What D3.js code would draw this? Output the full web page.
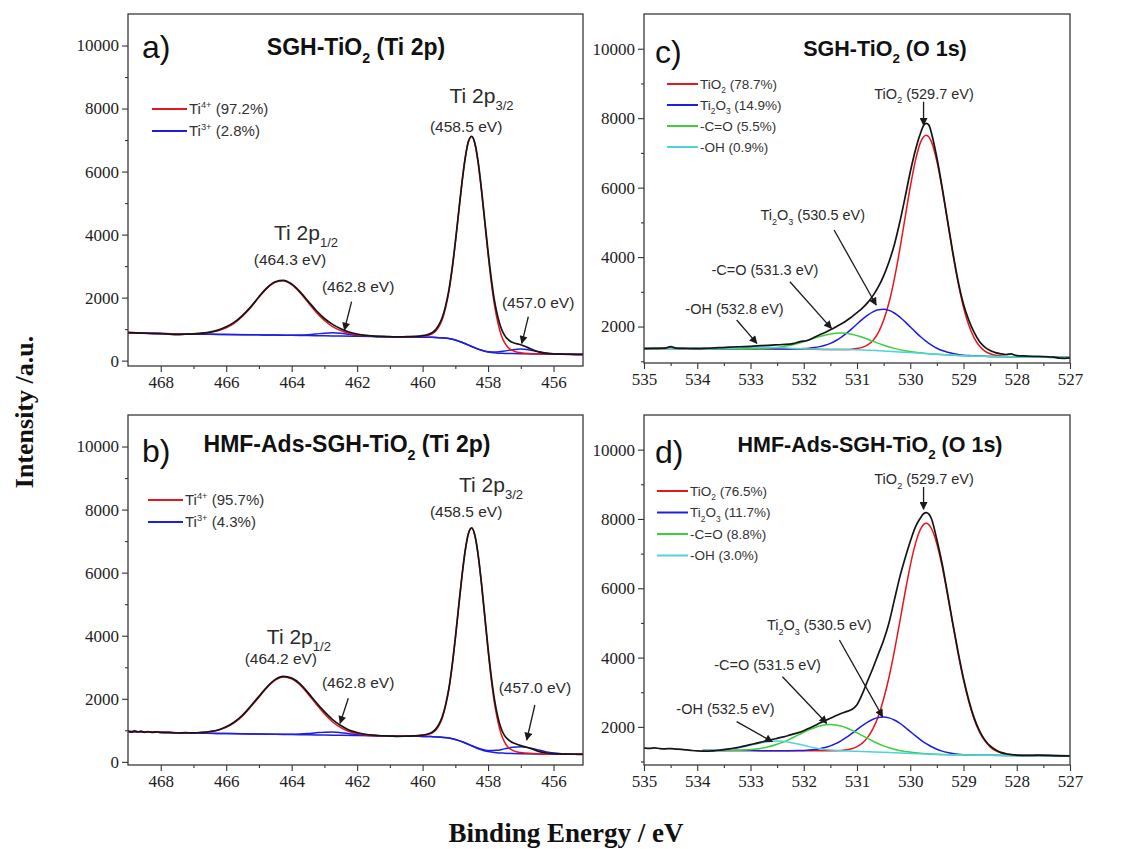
<!DOCTYPE html>
<html>
<head>
<meta charset="utf-8">
<script src="https://cdn.jsdelivr.net/npm/d3@7"></script>
<style>
  html, body { margin: 0; padding: 0; background: #ffffff; }
  svg { display: block; }
  .tick text { font-family: 'Liberation Serif', 'Times New Roman', serif !important; }
</style>
</head>
<body>
<svg id="chart" width="1122" height="849"></svg>
<script>
// ---------------------------------------------------------------
// XPS spectra: [binding energy (eV), intensity (counts)]
// ---------------------------------------------------------------

// (a) SGH-TiO2, Ti 2p
const tiA_raw = [[469,895],[468.75,882],[468.5,872],[468.25,866],[468,855],[467.75,842],[467.5,828],[467.25,838],[467,850],[466.75,872],[466.5,905],[466.25,968],[466,1072],[465.75,1222],[465.5,1440],[465.25,1708],[465,2028],[464.75,2318],[464.5,2505],[464.25,2548],[464,2430],[463.75,2188],[463.5,1890],[463.25,1590],[463,1338],[462.75,1150],[462.5,1010],[462.25,910],[462,845],[461.75,802],[461.5,780],[461.25,768],[461,760],[460.75,752],[460.5,760],[460.25,768],[460,792],[459.9,812],[459.8,842],[459.7,895],[459.6,985],[459.5,1140],[459.4,1370],[459.3,1730],[459.2,2220],[459.1,2910],[459,3760],[458.9,4700],[458.8,5630],[458.7,6420],[458.6,6960],[458.5,7120],[458.4,6890],[458.3,6280],[458.2,5420],[458.1,4440],[458,3460],[457.9,2590],[457.8,1880],[457.7,1380],[457.6,1030],[457.5,810],[457.4,680],[457.3,600],[457.2,560],[457.1,530],[457,505],[456.8,420],[456.6,330],[456.4,262],[456.2,228],[456,212],[455.75,204],[455.5,200],[455.25,197],[455.1,196]];
const tiA_ti4 = [[469,880],[468.5,870],[468,858],[467.5,846],[467.25,845],[467,857],[466.75,868],[466.5,895],[466.25,944],[466,1038],[465.75,1190],[465.5,1412],[465.25,1686],[465,2012],[464.75,2302],[464.5,2488],[464.25,2536],[464,2411],[463.75,2165],[463.5,1850],[463.25,1535],[463,1272],[462.75,1078],[462.5,953],[462.25,871],[462,824],[461.75,794],[461.5,779],[461.25,768],[461,761],[460.75,756],[460.5,756],[460.25,761],[460,778],[459.9,790],[459.8,814],[459.7,858],[459.6,935],[459.5,1076],[459.4,1302],[459.3,1672],[459.2,2174],[459.1,2879],[459,3740],[458.9,4691],[458.8,5623],[458.7,6417],[458.6,6945],[458.5,7105],[458.4,6865],[458.3,6252],[458.2,5378],[458.1,4376],[458,3368],[457.9,2466],[457.8,1729],[457.7,1202],[457.6,816],[457.5,578],[457.4,429],[457.3,346],[457.2,297],[457.1,269],[457,253],[456.75,229],[456.5,217],[456,205],[455.5,200],[455.1,196]];
const tiA_ti3 = [[469,880],[468,858],[467,840],[466,830],[465,818],[464.5,811],[464,807],[463.75,810],[463.5,823],[463.25,846],[463,873],[462.75,884],[462.5,868],[462.25,836],[462,804],[461.75,782],[461.5,770],[461.25,761],[461,758],[460.5,751],[460,745],[459.75,740],[459.5,730],[459.25,708],[459,655],[458.75,560],[458.5,450],[458.25,349],[458,285],[457.75,277],[457.5,305],[457.25,349],[457,370],[456.75,341],[456.5,287],[456.25,243],[456,215],[455.75,206],[455.5,200],[455.1,196]];
const tiA_bg = [[469,880],[468.5,870],[468,858],[467.5,846],[467,840],[466.5,835],[466,830],[465.5,824],[465,818],[464.5,810],[464,802],[463.5,795],[463,788],[462.5,780],[462,772],[461.5,765],[461,758],[460.5,751],[460,745],[459.75,740],[459.5,730],[459.25,708],[459,655],[458.75,560],[458.5,450],[458.25,345],[458,275],[457.75,242],[457.5,230],[457.25,224],[457,219],[456.5,211],[456,205],[455.5,200],[455.1,196]];

// (b) HMF-Ads-SGH-TiO2, Ti 2p
const tiB_raw = [[469,975],[468.9,940],[468.8,985],[468.7,950],[468.6,972],[468.5,935],[468.4,962],[468.25,930],[468.1,955],[468,925],[467.75,932],[467.5,915],[467.25,926],[467,918],[466.75,935],[466.5,962],[466.25,1010],[466,1110],[465.75,1262],[465.5,1480],[465.25,1770],[465,2075],[464.75,2380],[464.5,2615],[464.25,2712],[464,2655],[463.75,2480],[463.5,2195],[463.25,1880],[463,1590],[462.75,1340],[462.5,1150],[462.25,1010],[462,930],[461.75,875],[461.5,845],[461.25,828],[461,818],[460.75,808],[460.5,815],[460.25,822],[460,848],[459.9,866],[459.8,898],[459.7,948],[459.6,1038],[459.5,1196],[459.4,1428],[459.3,1800],[459.2,2310],[459.1,3040],[459,3930],[458.9,4910],[458.8,5870],[458.7,6690],[458.6,7240],[458.5,7420],[458.4,7170],[458.3,6540],[458.2,5650],[458.1,4620],[458,3600],[457.9,2690],[457.8,1950],[457.7,1420],[457.6,1060],[457.5,840],[457.4,720],[457.3,640],[457.2,590],[457.1,550],[457,515],[456.8,455],[456.6,385],[456.4,318],[456.2,280],[456,258],[455.75,248],[455.5,242],[455.25,239],[455.1,237]];
const tiB_ti4 = [[469,960],[468.5,945],[468,935],[467.5,925],[467,922],[466.75,930],[466.5,953],[466.25,1000],[466,1092],[465.75,1241],[465.5,1456],[465.25,1745],[465,2051],[464.75,2357],[464.5,2590],[464.25,2692],[464,2637],[463.75,2449],[463.5,2153],[463.25,1829],[463,1524],[462.75,1264],[462.5,1087],[462.25,964],[462,896],[461.75,857],[461.5,836],[461.25,823],[461,819],[460.75,815],[460.5,817],[460.25,823],[460,841],[459.9,852],[459.8,878],[459.7,922],[459.6,1002],[459.5,1149],[459.4,1382],[459.3,1765],[459.2,2287],[459.1,3019],[459,3912],[458.9,4898],[458.8,5865],[458.7,6690],[458.6,7238],[458.5,7405],[458.4,7158],[458.3,6525],[458.2,5620],[458.1,4578],[458,3527],[457.9,2592],[457.8,1827],[457.7,1280],[457.6,880],[457.5,634],[457.4,478],[457.3,392],[457.2,341],[457.1,310],[457,295],[456.75,270],[456.5,257],[456,246],[455.5,241],[455.1,237]];
const tiB_ti3 = [[469,960],[468,935],[467,915],[466,898],[465,882],[464.5,873],[464,873],[463.75,880],[463.5,898],[463.25,922],[463,941],[462.75,944],[462.5,925],[462.25,894],[462,862],[461.75,841],[461.5,829],[461,818],[460.5,812],[460,806],[459.75,800],[459.5,790],[459.25,765],[459,710],[458.75,620],[458.5,510],[458.25,418],[458,357],[457.75,365],[457.5,411],[457.25,461],[457,480],[456.75,451],[456.5,388],[456.25,324],[456,278],[455.75,255],[455.5,244],[455.1,237]];
const tiB_bg = [[469,960],[468.5,945],[468,935],[467.5,925],[467,915],[466.5,905],[466,898],[465.5,890],[465,882],[464.5,873],[464,865],[463.5,856],[463,848],[462.5,840],[462,832],[461.5,825],[461,818],[460.5,812],[460,806],[459.75,800],[459.5,790],[459.25,765],[459,710],[458.75,620],[458.5,510],[458.25,400],[458,325],[457.75,290],[457.5,275],[457.25,266],[457,260],[456.5,252],[456,246],[455.5,241],[455.1,237]];

// (c) SGH-TiO2, O 1s
const oC_raw = [[535,1365],[534.8,1372],[534.6,1378],[534.5,1420],[534.4,1380],[534.2,1368],[534,1362],[533.8,1375],[533.6,1390],[533.4,1405],[533.2,1418],[533,1430],[532.8,1448],[532.6,1465],[532.4,1482],[532.2,1510],[532.05,1575],[531.95,1590],[531.8,1690],[531.7,1762],[531.6,1830],[531.5,1905],[531.4,1985],[531.3,2070],[531.2,2165],[531.1,2280],[531,2400],[530.9,2530],[530.8,2690],[530.7,2890],[530.6,3140],[530.5,3460],[530.4,3860],[530.3,4350],[530.2,4980],[530.1,5700],[530,6450],[529.9,7100],[529.8,7600],[529.75,7790],[529.7,7850],[529.65,7800],[529.6,7560],[529.5,6860],[529.4,6000],[529.3,5060],[529.2,4130],[529.1,3300],[529,2640],[528.9,2180],[528.8,1830],[528.7,1570],[528.6,1410],[528.5,1310],[528.4,1250],[528.3,1215],[528.2,1195],[528.1,1212],[528.05,1185],[528,1165],[527.8,1150],[527.6,1138],[527.4,1125],[527.3,1118],[527.2,1088],[527.1,1084],[527,1098]];
const oC_tio2 = [[535,1370],[534,1364],[533,1359],[532,1350],[531.5,1340],[531.2,1340],[531.1,1347],[531,1365],[530.9,1400],[530.8,1469],[530.7,1600],[530.6,1826],[530.5,2178],[530.4,2684],[530.3,3361],[530.2,4188],[530.1,5108],[530,6018],[529.9,6800],[529.8,7331],[529.7,7510],[529.6,7311],[529.5,6760],[529.4,5960],[529.3,5033],[529.2,4095],[529.1,3250],[529,2556],[528.9,2037],[528.8,1674],[528.7,1437],[528.6,1295],[528.5,1215],[528.4,1172],[528.3,1149],[528.2,1137],[528,1125],[527.5,1115],[527,1105]];
const oC_ti2o3 = [[535,1370],[534,1364],[533,1359],[532.3,1355],[532.1,1359],[532,1366],[531.9,1377],[531.8,1395],[531.7,1422],[531.6,1461],[531.5,1515],[531.4,1591],[531.3,1686],[531.2,1801],[531.1,1932],[531,2072],[530.9,2207],[530.8,2327],[530.7,2422],[530.6,2481],[530.5,2497],[530.4,2465],[530.3,2390],[530.2,2278],[530.1,2141],[530,1992],[529.9,1840],[529.8,1697],[529.7,1570],[529.6,1463],[529.5,1375],[529.4,1308],[529.3,1259],[529.2,1223],[529.1,1196],[529,1176],[528.9,1164],[528.7,1150],[528.5,1140],[528,1125],[527.5,1115],[527,1105]];
const oC_co = [[535,1370],[534,1364],[533.3,1361],[533.1,1360],[532.9,1364],[532.7,1374],[532.5,1399],[532.3,1445],[532.1,1517],[531.9,1612],[531.7,1712],[531.5,1785],[531.3,1811],[531.1,1777],[530.9,1690],[530.7,1574],[530.5,1463],[530.3,1371],[530.1,1304],[529.9,1259],[529.7,1227],[529.5,1202],[529.3,1184],[529,1160],[528.5,1140],[528,1125],[527.5,1115],[527,1105]];
const oC_oh = [[535,1370],[534.5,1367],[534.2,1365],[533.8,1366],[533.6,1370],[533.4,1378],[533.2,1390],[533,1402],[532.8,1407],[532.6,1400],[532.4,1386],[532.2,1370],[532,1358],[531.8,1350],[531.4,1339],[531,1330],[530.5,1297],[530,1250],[529.5,1200],[529,1160],[528.5,1140],[528,1125],[527.5,1115],[527,1105]];

// (d) HMF-Ads-SGH-TiO2, O 1s
const oD_raw = [[535,1395],[534.9,1380],[534.8,1392],[534.7,1375],[534.6,1368],[534.5,1372],[534.4,1360],[534.3,1350],[534.2,1335],[534.1,1318],[534,1305],[533.9,1300],[533.8,1298],[533.7,1310],[533.6,1325],[533.5,1345],[533.4,1365],[533.3,1390],[533.2,1420],[533.1,1450],[533,1490],[532.9,1525],[532.8,1560],[532.7,1595],[532.6,1635],[532.5,1670],[532.4,1705],[532.3,1745],[532.2,1790],[532.1,1835],[532,1890],[531.9,1960],[531.8,2030],[531.7,2110],[531.6,2180],[531.5,2250],[531.4,2320],[531.3,2385],[531.2,2440],[531.1,2500],[531,2640],[530.9,2950],[530.8,3330],[530.7,3700],[530.6,4100],[530.5,4500],[530.4,5000],[530.3,5650],[530.2,6300],[530.1,6850],[530,7350],[529.9,7780],[529.8,8050],[529.75,8150],[529.7,8180],[529.65,8140],[529.6,8000],[529.5,7400],[529.4,6700],[529.3,5850],[529.2,4980],[529.1,4150],[529,3400],[528.9,2770],[528.8,2260],[528.7,1885],[528.6,1625],[528.5,1450],[528.4,1340],[528.3,1265],[528.2,1225],[528.1,1200],[528,1185],[527.8,1175],[527.6,1185],[527.4,1175],[527.2,1165],[527,1160]];
const oD_tio2 = [[533.9,1321],[533,1315],[532,1308],[531.5,1309],[531.3,1320],[531.2,1338],[531.1,1368],[531,1430],[530.9,1532],[530.8,1697],[530.7,1949],[530.6,2310],[530.5,2803],[530.4,3424],[530.3,4170],[530.2,5003],[530.1,5856],[530,6656],[529.9,7303],[529.8,7730],[529.7,7877],[529.6,7718],[529.5,7279],[529.4,6622],[529.3,5812],[529.2,4949],[529.1,4106],[529,3350],[528.9,2722],[528.8,2221],[528.7,1854],[528.6,1596],[528.5,1424],[528.4,1317],[528.3,1249],[528.2,1216],[528.1,1195],[528,1175],[527.5,1172],[527,1170]];
const oD_ti2o3 = [[533.9,1321],[533,1315],[532.3,1312],[532.1,1316],[532,1321],[531.9,1330],[531.8,1346],[531.7,1369],[531.6,1403],[531.5,1451],[531.4,1515],[531.3,1598],[531.2,1695],[531.1,1805],[531,1920],[530.9,2036],[530.8,2139],[530.7,2221],[530.6,2272],[530.5,2285],[530.4,2260],[530.3,2198],[530.2,2105],[530.1,1991],[530,1865],[529.9,1739],[529.8,1620],[529.7,1515],[529.6,1426],[529.5,1354],[529.4,1300],[529.3,1261],[529.2,1233],[529.1,1212],[529,1198],[528.9,1191],[528.7,1183],[528.5,1178],[528,1175],[527.5,1172],[527,1170]];
const oD_co = [[533.9,1321],[533.5,1319],[533.3,1323],[533.1,1335],[532.9,1360],[532.7,1411],[532.5,1497],[532.3,1619],[532.1,1769],[531.9,1917],[531.7,2028],[531.5,2067],[531.3,2023],[531.1,1905],[530.9,1746],[530.7,1585],[530.5,1451],[530.3,1352],[530.1,1288],[529.9,1250],[529.7,1225],[529.5,1208],[529.3,1197],[529,1185],[528.5,1178],[528,1175],[527.5,1172],[527,1170]];
const oD_oh = [[533.9,1324],[533.7,1329],[533.5,1344],[533.3,1380],[533.1,1437],[532.9,1507],[532.7,1567],[532.5,1591],[532.3,1565],[532.1,1503],[531.9,1430],[531.7,1370],[531.5,1330],[531.3,1310],[531.1,1298],[530.9,1286],[530.5,1265],[530,1235],[529.5,1205],[529,1185],[528.5,1178],[528,1175],[527.5,1172],[527,1170]];

// Tick values
const tiXMajor = [468, 466, 464, 462, 460, 458, 456];
const tiXMinor = [467, 465, 463, 461, 459, 457];
const oXMajor = [535, 534, 533, 532, 531, 530, 529, 528, 527];
const oXMinor = [534.5, 533.5, 532.5, 531.5, 530.5, 529.5, 528.5, 527.5];
const tiYMajor = [0, 2000, 4000, 6000, 8000, 10000];
const oYMajor = [2000, 4000, 6000, 8000, 10000];
const yMinor = [1000, 3000, 5000, 7000, 9000];

// Legend entries (component : fitted fraction)
const legendA = ["Ti^{4+} (97.2%)", "Ti^{3+} (2.8%)"];
const legendB = ["Ti^{4+} (95.7%)", "Ti^{3+} (4.3%)"];
const legendC = ["TiO_{2} (78.7%)", "Ti_{2}O_{3} (14.9%)", "-C=O (5.5%)", "-OH (0.9%)"];
const legendD = ["TiO_{2} (76.5%)", "Ti_{2}O_{3} (11.7%)", "-C=O (8.8%)", "-OH (3.0%)"];

// ---------------------------------------------------------------
const RED = "#e8161c", BLUE = "#1e1ee0", GREEN = "#3ccf3c", CYAN = "#4ed3db", INK = "#151515";
const SANS = "'Liberation Sans', Arial, sans-serif";
const SERIF = "'Liberation Serif', 'Times New Roman', serif";

const panels = [
  {
    id: "a", box: { x0: 128, x1: 583, y0: 14, y1: 366 },
    xDomain: [469, 455.1], yDomain: [-170, 11000],
    xMajor: tiXMajor, xMinor: tiXMinor, yMajor: tiYMajor,
    series: [[tiA_bg, BLUE], [tiA_ti3, BLUE], [tiA_ti4, RED], [tiA_raw, INK]],
    tag: { text: "a)", x: 142, y: 58 },
    title: { text: "SGH-TiO_{2} (Ti 2p)", x: 356, y: 55, size: 23 },
    legend: { items: legendA, colors: [RED, BLUE], x: 152, y: 109, dy: 22, len: 35, size: 15 },
    notes: [
      { text: "Ti 2p_{3/2}", at: [458.2, 8177], size: 21 },
      { text: "(458.5 eV)", at: [458.67, 7256], size: 15.5 },
      { text: "Ti 2p_{1/2}", at: [463.56, 3829], size: 21 },
      { text: "(464.3 eV)", at: [464.05, 3035], size: 15.5 },
      { text: "(462.8 eV)", at: [461.97, 2163], size: 15.5 },
      { text: "(457.0 eV)", at: [456.47, 1671], size: 15.5 }
    ],
    arrows: [
      { from: [462.17, 1871], to: [462.39, 972] },
      { from: [456.77, 1395], to: [456.97, 550] }
    ]
  },
  {
    id: "b", box: { x0: 128, x1: 583, y0: 415, y1: 765 },
    xDomain: [469, 455.1], yDomain: [-100, 11000],
    xMajor: tiXMajor, xMinor: tiXMinor, yMajor: tiYMajor,
    series: [[tiB_bg, BLUE], [tiB_ti3, BLUE], [tiB_ti4, RED], [tiB_raw, INK]],
    tag: { text: "b)", x: 142, y: 462 },
    title: { text: "HMF-Ads-SGH-TiO_{2} (Ti 2p)", x: 347, y: 452, size: 23 },
    legend: { items: legendB, colors: [RED, BLUE], x: 148, y: 500, dy: 22, len: 35, size: 15 },
    notes: [
      { text: "Ti 2p_{3/2}", at: [457.91, 8558], size: 21 },
      { text: "(458.5 eV)", at: [458.67, 7765], size: 15.5 },
      { text: "Ti 2p_{1/2}", at: [463.78, 3738], size: 21 },
      { text: "(464.2 eV)", at: [464.33, 3119], size: 15.5 },
      { text: "(462.8 eV)", at: [461.97, 2342], size: 15.5 },
      { text: "(457.0 eV)", at: [456.57, 2168], size: 15.5 }
    ],
    arrows: [
      { from: [462.27, 2015], to: [462.52, 1223] },
      { from: [456.57, 1803], to: [456.82, 693] }
    ]
  },
  {
    id: "c", box: { x0: 644, x1: 1070, y0: 14, y1: 363 },
    xDomain: [535, 527], yDomain: [950, 11000],
    xMajor: oXMajor, xMinor: oXMinor, yMajor: oYMajor,
    series: [[oC_tio2, RED], [oC_ti2o3, BLUE], [oC_co, GREEN], [oC_oh, CYAN], [oC_raw, INK]],
    tag: { text: "c)", x: 655, y: 63 },
    title: { text: "SGH-TiO_{2} (O 1s)", x: 885, y: 56, size: 21.5 },
    legend: { items: legendC, colors: [RED, BLUE, GREEN, CYAN], x: 667, y: 84, dy: 21, len: 31, size: 13.5 },
    notes: [
      { text: "TiO_{2} (529.7 eV)", at: [529.74, 8566], size: 14.5 },
      { text: "Ti_{2}O_{3} (530.5 eV)", at: [531.83, 5067], size: 14.5 },
      { text: "-C=O (531.3 eV)", at: [532.73, 3484], size: 14.5 },
      { text: "-OH (532.8 eV)", at: [533.30, 2375], size: 14.5 }
    ],
    arrows: [
      { from: [529.75, 8474], to: [529.75, 7800] },
      { from: [531.43, 4780], to: [530.64, 2620] },
      { from: [532.26, 3291], to: [531.48, 1949] },
      { from: [533.26, 2188], to: [532.88, 1517] }
    ]
  },
  {
    id: "d", box: { x0: 644, x1: 1070, y0: 415, y1: 765 },
    xDomain: [535, 527], yDomain: [900, 11000],
    xMajor: oXMajor, xMinor: oXMinor, yMajor: oYMajor,
    series: [[oD_tio2, RED], [oD_ti2o3, BLUE], [oD_co, GREEN], [oD_oh, CYAN], [oD_raw, INK]],
    tag: { text: "d)", x: 655, y: 463 },
    title: { text: "HMF-Ads-SGH-TiO_{2} (O 1s)", x: 870, y: 452, size: 21.5 },
    legend: { items: legendD, colors: [RED, BLUE, GREEN, CYAN], x: 657, y: 491, dy: 21.5, len: 31, size: 13.5 },
    notes: [
      { text: "TiO_{2} (529.7 eV)", at: [529.74, 8995], size: 14.5 },
      { text: "Ti_{2}O_{3} (530.5 eV)", at: [531.71, 4796], size: 14.5 },
      { text: "-C=O (531.5 eV)", at: [532.68, 3642], size: 14.5 },
      { text: "-OH (532.5 eV)", at: [533.47, 2386], size: 14.5 }
    ],
    arrows: [
      { from: [529.75, 8923], to: [529.75, 8280] },
      { from: [531.33, 4508], to: [530.52, 2294] },
      { from: [532.40, 3448], to: [531.57, 2103] },
      { from: [533.26, 2150], to: [532.59, 1572] }
    ]
  }
];

// ---------------------------------------------------------------
const svg = d3.select("#chart");
const defs = svg.append("defs");
defs.append("marker")
  .attr("id", "arrowhead")
  .attr("viewBox", "0 0 10 10")
  .attr("refX", 9).attr("refY", 5)
  .attr("markerWidth", 9).attr("markerHeight", 8)
  .attr("markerUnits", "userSpaceOnUse")
  .attr("orient", "auto")
  .append("path").attr("d", "M0,0 L10,5 L0,10 Z").attr("fill", "#1a1a1a");

// Text with _{sub} and ^{sup} markup
function parseRich(str) {
  const parts = [];
  const re = /([_^])\{([^}]*)\}/g;
  let last = 0, m;
  while ((m = re.exec(str))) {
    if (m.index > last) parts.push({ t: str.slice(last, m.index) });
    parts.push({ t: m[2], sub: m[1] === "_", sup: m[1] === "^" });
    last = re.lastIndex;
  }
  if (last < str.length) parts.push({ t: str.slice(last) });
  return parts;
}
function rich(textSel, str, size) {
  let shift = 0;
  parseRich(str).forEach(p => {
    const s = p.sub ? size * 0.33 : p.sup ? -size * 0.42 : 0;
    const ts = textSel.append("tspan").text(p.t).attr("dy", (s - shift) + "px");
    if (p.sub || p.sup) ts.attr("font-size", (size * 0.62) + "px");
    shift = s;
  });
  return textSel;
}

panels.forEach(p => {
  const x = d3.scaleLinear().domain(p.xDomain).range([p.box.x0, p.box.x1]);
  const y = d3.scaleLinear().domain(p.yDomain).range([p.box.y1, p.box.y0]);
  const g = svg.append("g").attr("class", "panel-" + p.id);

  defs.append("clipPath").attr("id", "clip-" + p.id)
    .append("rect")
    .attr("x", p.box.x0).attr("y", p.box.y0)
    .attr("width", p.box.x1 - p.box.x0).attr("height", p.box.y1 - p.box.y0);

  // axes: major ticks with labels, minor ticks without
  const inX = v => v >= Math.min(...p.xDomain) && v <= Math.max(...p.xDomain);
  const inY = v => v >= p.yDomain[0] && v <= p.yDomain[1];
  const axisStyle = sel => {
    sel.attr("font-family", SERIF).attr("font-size", 17);
    sel.select(".domain").remove();
    sel.selectAll(".tick line").attr("stroke", "#333").attr("stroke-width", 1.1);
    sel.selectAll(".tick text")
      .style("font-family", SERIF).style("font-size", "17px").attr("fill", "#1e1e1e");
  };
  g.append("g").attr("transform", `translate(0,${p.box.y1})`)
    .call(d3.axisBottom(x).tickValues(p.xMajor.filter(inX)).tickSize(6).tickPadding(4).tickFormat(d3.format("d")))
    .call(axisStyle);
  g.append("g").attr("transform", `translate(0,${p.box.y1})`)
    .call(d3.axisBottom(x).tickValues(p.xMinor.filter(inX)).tickSize(3).tickFormat(""))
    .call(axisStyle);
  g.append("g").attr("transform", `translate(${p.box.x0},0)`)
    .call(d3.axisLeft(y).tickValues(p.yMajor.filter(inY)).tickSize(6).tickPadding(3).tickFormat(d3.format("d")))
    .call(axisStyle);
  g.append("g").attr("transform", `translate(${p.box.x0},0)`)
    .call(d3.axisLeft(y).tickValues(yMinor.filter(inY)).tickSize(3).tickFormat(""))
    .call(axisStyle);

  // spectra
  const line = d3.line().x(d => x(d[0])).y(d => y(d[1])).curve(d3.curveMonotoneX);
  const curves = g.append("g").attr("clip-path", `url(#clip-${p.id})`);
  p.series.forEach(([data, color]) => {
    curves.append("path")
      .datum(data)
      .attr("d", line)
      .attr("fill", "none")
      .attr("stroke", color)
      .attr("stroke-width", color === INK ? 1.7 : 1.5)
      .attr("stroke-linejoin", "round");
  });

  // frame
  g.append("rect")
    .attr("x", p.box.x0).attr("y", p.box.y0)
    .attr("width", p.box.x1 - p.box.x0).attr("height", p.box.y1 - p.box.y0)
    .attr("fill", "none").attr("stroke", "#3a3a3a").attr("stroke-width", 1.3);

  // panel tag and title
  g.append("text").attr("x", p.tag.x).attr("y", p.tag.y)
    .attr("font-family", SANS).attr("font-size", "32px").attr("fill", "#111")
    .text(p.tag.text);
  rich(g.append("text").attr("x", p.title.x).attr("y", p.title.y)
    .attr("text-anchor", "middle").attr("font-family", SANS).attr("font-weight", "bold")
    .attr("font-size", p.title.size + "px").attr("fill", "#111"), p.title.text, p.title.size);

  // legend
  const L = p.legend;
  L.items.forEach((label, i) => {
    const yy = L.y + i * L.dy;
    g.append("line").attr("x1", L.x).attr("x2", L.x + L.len).attr("y1", yy).attr("y2", yy)
      .attr("stroke", L.colors[i]).attr("stroke-width", 2);
    rich(g.append("text").attr("x", L.x + L.len + 2).attr("y", yy + L.size * 0.36)
      .attr("font-family", SANS).attr("font-size", L.size + "px").attr("fill", "#333"), label, L.size);
  });

  // peak annotations
  p.notes.forEach(n => {
    rich(g.append("text").attr("x", x(n.at[0])).attr("y", y(n.at[1]))
      .attr("text-anchor", "middle").attr("font-family", SANS)
      .attr("font-size", n.size + "px").attr("fill", "#2b2b2b"), n.text, n.size);
  });
  p.arrows.forEach(a => {
    g.append("line")
      .attr("x1", x(a.from[0])).attr("y1", y(a.from[1]))
      .attr("x2", x(a.to[0])).attr("y2", y(a.to[1]))
      .attr("stroke", "#1a1a1a").attr("stroke-width", 1.3)
      .attr("marker-end", "url(#arrowhead)");
  });
});

// shared axis titles
svg.append("text")
  .attr("transform", "translate(33,412) rotate(-90)")
  .attr("text-anchor", "middle")
  .attr("font-family", SERIF).attr("font-weight", "bold").attr("font-size", "26px").attr("fill", "#111")
  .text("Intensity /a.u.");
svg.append("text")
  .attr("x", 566).attr("y", 842)
  .attr("text-anchor", "middle")
  .attr("font-family", SERIF).attr("font-weight", "bold").attr("font-size", "27px").attr("fill", "#111")
  .text("Binding Energy / eV");
</script>
</body>
</html>
